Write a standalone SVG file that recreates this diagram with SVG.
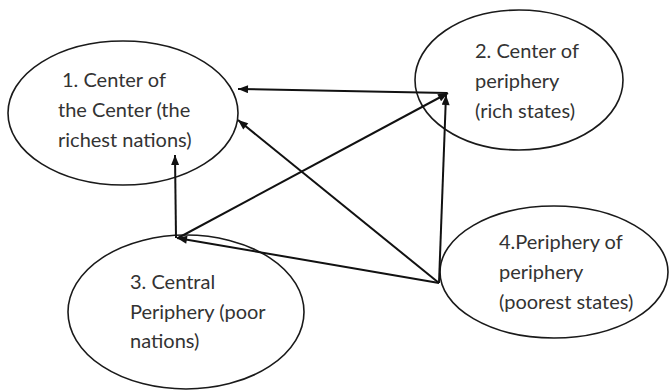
<svg xmlns="http://www.w3.org/2000/svg" width="669" height="392" viewBox="0 0 669 392">
<style>
.n ellipse{fill:none;stroke:#1a1a1a;stroke-width:1.6}
.n text{font-family:Lato,"Open Sans",sans-serif;font-size:20px;fill:#333}
.c line{stroke:#111;stroke-width:2;marker-end:url(#ah)}
</style>
<defs>
<marker id="ah" viewBox="0 0 10 8" refX="10" refY="4" markerWidth="11" markerHeight="8" markerUnits="userSpaceOnUse" orient="auto">
<path d="M0,0 L10,4 L0,8 Z" fill="#111"/>
</marker>
</defs>
<rect width="669" height="392" fill="#fff"/>
<g id="n1" class="n">
<ellipse cx="123" cy="113" rx="115" ry="72"/>
<text x="62" y="87">1. Center of</text>
<text x="58" y="117">the Center (the</text>
<text x="58" y="147">richest nations)</text>
</g>
<g id="n2" class="n">
<ellipse cx="519" cy="80" rx="104" ry="70"/>
<text x="475" y="58">2. Center of</text>
<text x="475" y="88">periphery</text>
<text x="475" y="118">(rich states)</text>
</g>
<g id="n3" class="n">
<ellipse cx="186" cy="312" rx="118" ry="77"/>
<text x="130" y="289">3. Central</text>
<text x="130" y="319">Periphery (poor</text>
<text x="130" y="348">nations)</text>
</g>
<g id="n4" class="n">
<ellipse cx="554" cy="272" rx="114" ry="66"/>
<text x="499" y="249">4.Periphery of</text>
<text x="499" y="279">periphery</text>
<text x="499" y="309">(poorest states)</text>
</g>
<g id="connectors" class="c">
<line x1="447" y1="93" x2="238" y2="89"/>
<line x1="178" y1="238" x2="448" y2="93"/>
<line x1="176" y1="238" x2="175" y2="155"/>
<line x1="439" y1="283" x2="238" y2="120"/>
<line x1="439" y1="283" x2="446" y2="95"/>
<line x1="439" y1="283" x2="177" y2="238"/>
</g>
</svg>
